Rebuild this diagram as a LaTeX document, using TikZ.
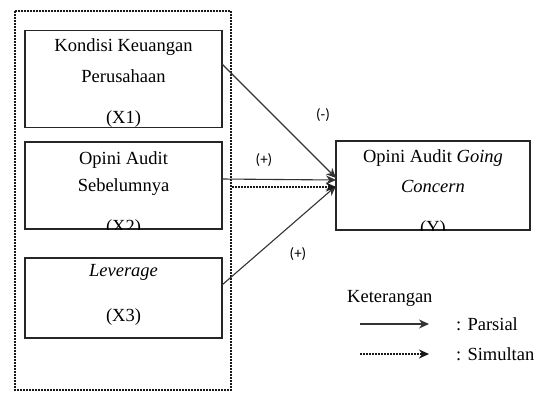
\documentclass[tikz,border=0pt]{standalone}
\usepackage{fontspec}
\setmainfont{Liberation Serif}
\setsansfont{Carlito}
\usetikzlibrary{arrows.meta}
\begin{document}
\begin{tikzpicture}[x=1pt,y=-1pt,
  varbox/.style={draw=black!85,line width=1.3pt,rectangle,inner sep=0pt},
  vtext/.style={inner sep=0pt,font=\fontsize{18.5}{20}\selectfont},
  sign/.style={inner sep=0pt,font=\sffamily\fontsize{15}{17}\selectfont},
  link/.style={draw=black!80,line width=1.1pt,-{Stealth[length=10pt,width=9pt]}},
  joint/.style={draw=black!90,line width=2.4pt,dash pattern=on 1.6pt off 1.4pt,-{Stealth[length=10pt,width=9pt]}},
  group/.style={draw=black!90,line width=2.6pt,dash pattern=on 1.6pt off 1.4pt}]
\useasboundingbox (0,0) rectangle (534,394);
\fill[white] (0,0) rectangle (534,394);

% group of independent variables
\draw[group] (15,11) rectangle (231,390);

% variable boxes
\node[varbox,minimum width=197pt,minimum height=97pt] (b1) at (123.5,79) {};
\node[varbox,minimum width=197pt,minimum height=87pt] (b2) at (123.5,185.5) {};
\node[varbox,minimum width=197pt,minimum height=80pt] (b3) at (123.5,298) {};
\node[varbox,minimum width=194pt,minimum height=89pt] (y) at (433,185.5) {};

% box texts, clipped to the box interior
\begin{scope}
\clip (b1.south west) rectangle (b1.north east);
\node[vtext] (t1a) at (123.5,47) {Kondisi Keuangan};
\node[vtext] (t1b) at (123.5,76) {Perusahaan};
\node[vtext] (t1c) at (123.5,119) {(X1)};
\end{scope}
\begin{scope}
\clip (b2.south west) rectangle (b2.north east);
\node[vtext] (t2a) at (123.5,160) {Opini Audit};
\node[vtext] (t2b) at (123.5,187) {Sebelumnya};
\node[vtext] (t2c) at (123.5,228) {(X2)};
\end{scope}
\node[vtext] (t3a) at (123.5,272) {\itshape Leverage};
\node[vtext] (t3b) at (123.5,317) {(X3)};
\begin{scope}
\clip (y.south west) rectangle (y.north east);
\node[vtext] (tya) at (433,158) {Opini Audit \textit{Going}};
\node[vtext] (tyb) at (433,186) {\itshape Concern};
\node[vtext] (tyc) at (433,229) {(Y)};
\end{scope}

% connector ends
\coordinate (s1) at (222,64);
\coordinate (s2) at (222,179);
\coordinate (s3) at (222,285);
\coordinate (sg) at (232,187);
\coordinate (e1) at (336,178);
\coordinate (e2) at (336,180);
\coordinate (e3) at (336,186);
\coordinate (eg) at (336,187);

\draw[link] (s1) -- (e1);
\draw[link] (s2) -- (e2);
\draw[link] (s3) -- (e3);
\draw[joint] (sg) -- (eg);

% effect signs
\node[sign] (m1) at (323,115) {(-)};
\node[sign] (p2) at (264,160) {(+)};
\node[sign] (p3) at (298,254) {(+)};

% legend
\node[vtext,anchor=west] (leg) at (347,298) {Keterangan};
\coordinate (la) at (360,324);
\coordinate (lb) at (429,324);
\coordinate (lc) at (360,354);
\coordinate (ld) at (429,354);
\draw[link] (la) -- (lb);
\draw[joint,line width=1.8pt] (lc) -- (ld);
\node[vtext,anchor=west] (lp) at (456,324) {: Parsial};
\node[vtext,anchor=west] (ls) at (456,354) {: Simultan};
\end{tikzpicture}
\end{document}
